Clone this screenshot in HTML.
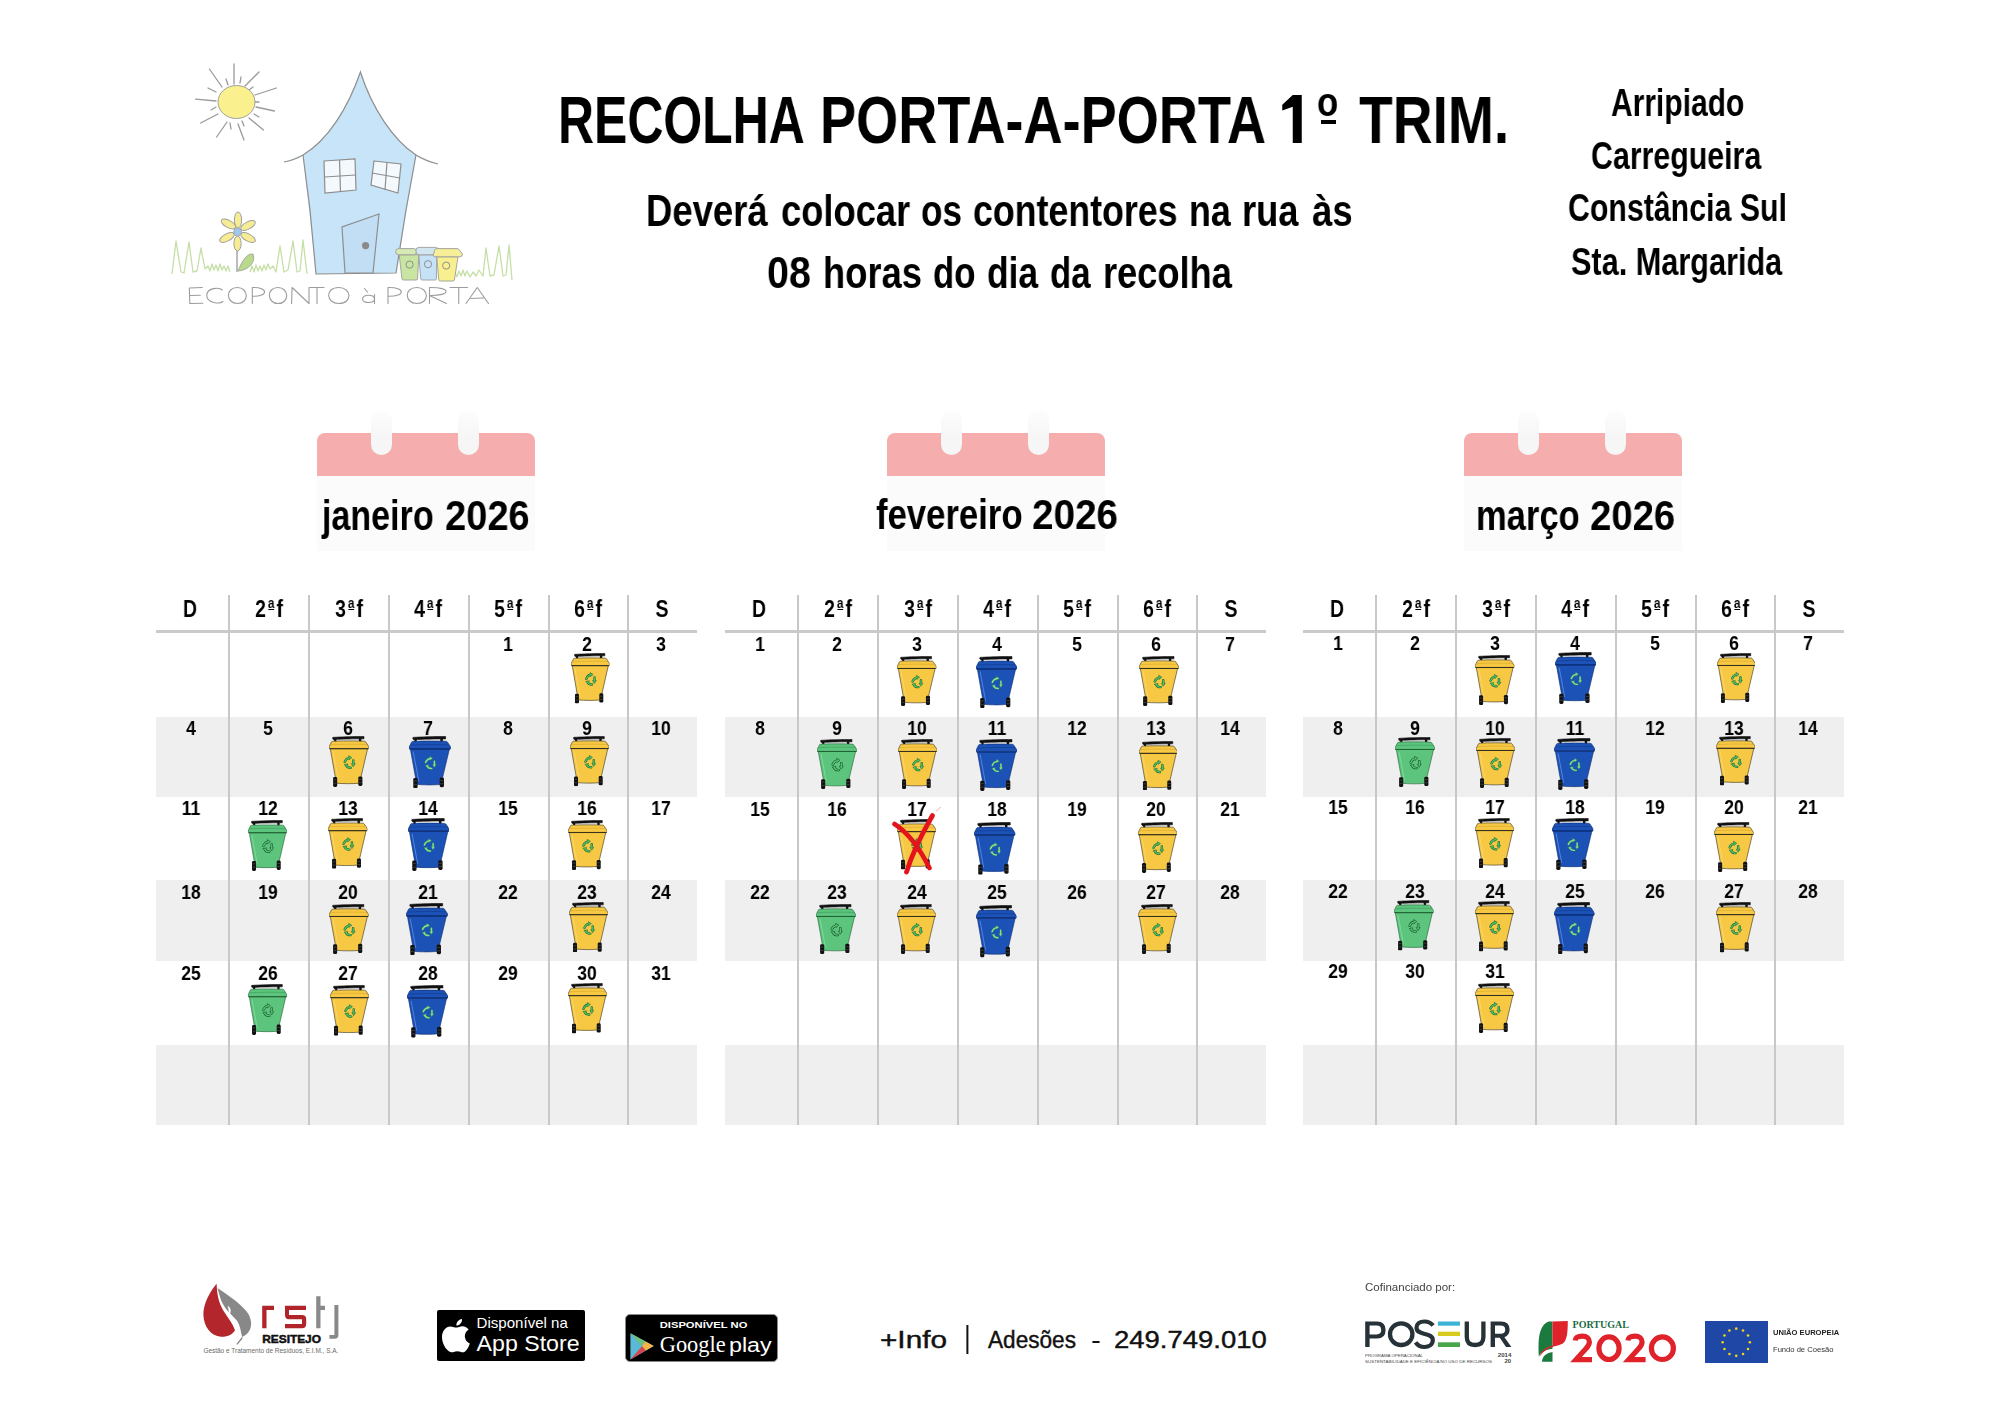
<!DOCTYPE html>
<html><head><meta charset="utf-8"><style>
*{margin:0;padding:0;box-sizing:border-box}
html,body{width:2000px;height:1414px;background:#fff;overflow:hidden}
body{position:relative;font-family:"Liberation Sans",sans-serif}
.t{position:absolute;white-space:nowrap;will-change:transform}
.a{position:absolute}
.o{display:inline-block;font-size:0.6em;line-height:0.82;vertical-align:top;border-bottom:0.11em solid #000;padding:0;margin:0.06em 0.16em 0 0.18em;position:relative;top:-1.3px}
</style></head>
<body>
<svg width="0" height="0" style="position:absolute"><defs><symbol id="biny" viewBox="0 0 40 52"><path d="M3.8 1.4 C12 0.8 26 0.4 35 0.5 L35 2.9 C26 2.9 12 3.2 4.2 3.6 Q3.2 2.6 3.8 1.4 Z" fill="#111" stroke="#111" stroke-width="0.6" stroke-linejoin="round"/><path d="M5 2.6 L7.4 2.6 L7.4 6.2 L5.4 6.2 Z M29.8 2.4 L32.4 2.4 L32.2 6.2 L30 6.2 Z" fill="#111"/><path d="M2.6 5.9 Q3 5.3 4.4 5.3 C14 4.9 26 4.9 35.2 5.3 Q36.2 5.3 36.6 5.9 L40 11.2 L39.8 12.9 L0.2 12.9 L0 11.2 Z" fill="#f7c843" stroke="#2e2a1a" stroke-width="0.6"/><path d="M1.6 9.0 C14 8.3 26 8.3 38.2 8.8" stroke="#d9a62a" stroke-width="0.6" fill="none"/><path d="M1.3 13 L38.6 13 L30.5 48.2 C23 49 14 48.8 7.4 48.2 Z" fill="#f7c843" stroke="#2e2a1a" stroke-width="0.6"/><path d="M0.6 13 L39.2 13" stroke="#2e2a1a" stroke-width="0.9"/><path d="M4 15.5 L9.4 45" stroke="#fde08a" stroke-width="0.7" opacity="0.8"/><g transform="translate(20.3 27) scale(0.82) translate(-19.5 -26.8)"><path d="M14 26.2 Q15.6 21.8 19.4 21.2" stroke="#1c6a34" stroke-width="3" fill="none" stroke-linecap="round"/><path d="M18.8 18.4 L22.6 20.8 L19.2 23.6 Z" fill="#4fbf63" stroke="#1c6a34" stroke-width="0.7" stroke-linejoin="round"/><path d="M14 26.2 Q15.6 21.8 19.4 21.2" stroke="#4fbf63" stroke-width="1.7" fill="none" stroke-linecap="round"/><path d="M24.3 24.4 L24.4 29" stroke="#1c6a34" stroke-width="3" fill="none" stroke-linecap="round"/><path d="M21.9 28.4 L26.7 28.4 L24.2 32.2 Z" fill="#4fbf63" stroke="#1c6a34" stroke-width="0.7" stroke-linejoin="round"/><path d="M24.3 24.4 L24.4 29" stroke="#4fbf63" stroke-width="1.7" fill="none" stroke-linecap="round"/><path d="M21.2 33.4 Q17.4 33.6 16 30.8" stroke="#1c6a34" stroke-width="3" fill="none" stroke-linecap="round"/><path d="M13.2 29.6 L17.8 28.6 L16.6 32.6 Z" fill="#4fbf63" stroke="#1c6a34" stroke-width="0.7" stroke-linejoin="round"/><path d="M21.2 33.4 Q17.4 33.6 16 30.8" stroke="#4fbf63" stroke-width="1.7" fill="none" stroke-linecap="round"/></g><rect x="4.1" y="41.8" width="4.1" height="10.2" rx="1.4" fill="#111"/><rect x="29.3" y="41.4" width="4.1" height="9.6" rx="1.4" fill="#111"/><path d="M4.6 44.8 H7.7 M4.6 48.2 H7.7 M29.8 44.4 H32.9 M29.8 47.6 H32.9" stroke="#666" stroke-width="0.5"/></symbol><symbol id="binb" viewBox="0 0 40 52"><path d="M3.8 1.4 C12 0.8 26 0.4 35 0.5 L35 2.9 C26 2.9 12 3.2 4.2 3.6 Q3.2 2.6 3.8 1.4 Z" fill="#111" stroke="#111" stroke-width="0.6" stroke-linejoin="round"/><path d="M5 2.6 L7.4 2.6 L7.4 6.2 L5.4 6.2 Z M29.8 2.4 L32.4 2.4 L32.2 6.2 L30 6.2 Z" fill="#111"/><path d="M2.6 5.9 Q3 5.3 4.4 5.3 C14 4.9 26 4.9 35.2 5.3 Q36.2 5.3 36.6 5.9 L40 11.2 L39.8 12.9 L0.2 12.9 L0 11.2 Z" fill="#1c52b6" stroke="#0a2a6e" stroke-width="0.6"/><path d="M1.6 9.0 C14 8.3 26 8.3 38.2 8.8" stroke="#0e3a8e" stroke-width="0.6" fill="none"/><path d="M1.3 13 L38.6 13 L30.5 48.2 C23 49 14 48.8 7.4 48.2 Z" fill="#1c52b6" stroke="#0a2a6e" stroke-width="0.6"/><path d="M0.6 13 L39.2 13" stroke="#0a2a6e" stroke-width="0.9"/><path d="M4 15.5 L9.4 45" stroke="#7aa8ff" stroke-width="0.7" opacity="0.8"/><g transform="translate(20.3 27) scale(0.82) translate(-19.5 -26.8)"><path d="M14 26.2 Q15.6 21.8 19.4 21.2" stroke="#1f6a8a" stroke-width="3" fill="none" stroke-linecap="round"/><path d="M18.8 18.4 L22.6 20.8 L19.2 23.6 Z" fill="#86e27e" stroke="#1f6a8a" stroke-width="0.7" stroke-linejoin="round"/><path d="M14 26.2 Q15.6 21.8 19.4 21.2" stroke="#86e27e" stroke-width="1.7" fill="none" stroke-linecap="round"/><path d="M24.3 24.4 L24.4 29" stroke="#1f6a8a" stroke-width="3" fill="none" stroke-linecap="round"/><path d="M21.9 28.4 L26.7 28.4 L24.2 32.2 Z" fill="#86e27e" stroke="#1f6a8a" stroke-width="0.7" stroke-linejoin="round"/><path d="M24.3 24.4 L24.4 29" stroke="#86e27e" stroke-width="1.7" fill="none" stroke-linecap="round"/><path d="M21.2 33.4 Q17.4 33.6 16 30.8" stroke="#1f6a8a" stroke-width="3" fill="none" stroke-linecap="round"/><path d="M13.2 29.6 L17.8 28.6 L16.6 32.6 Z" fill="#86e27e" stroke="#1f6a8a" stroke-width="0.7" stroke-linejoin="round"/><path d="M21.2 33.4 Q17.4 33.6 16 30.8" stroke="#86e27e" stroke-width="1.7" fill="none" stroke-linecap="round"/></g><rect x="4.1" y="41.8" width="4.1" height="10.2" rx="1.4" fill="#111"/><rect x="29.3" y="41.4" width="4.1" height="9.6" rx="1.4" fill="#111"/><path d="M4.6 44.8 H7.7 M4.6 48.2 H7.7 M29.8 44.4 H32.9 M29.8 47.6 H32.9" stroke="#666" stroke-width="0.5"/></symbol><symbol id="bing" viewBox="0 0 40 52"><path d="M3.8 1.4 C12 0.8 26 0.4 35 0.5 L35 2.9 C26 2.9 12 3.2 4.2 3.6 Q3.2 2.6 3.8 1.4 Z" fill="#111" stroke="#111" stroke-width="0.6" stroke-linejoin="round"/><path d="M5 2.6 L7.4 2.6 L7.4 6.2 L5.4 6.2 Z M29.8 2.4 L32.4 2.4 L32.2 6.2 L30 6.2 Z" fill="#111"/><path d="M2.6 5.9 Q3 5.3 4.4 5.3 C14 4.9 26 4.9 35.2 5.3 Q36.2 5.3 36.6 5.9 L40 11.2 L39.8 12.9 L0.2 12.9 L0 11.2 Z" fill="#5cc47c" stroke="#1c5e30" stroke-width="0.6"/><path d="M1.6 9.0 C14 8.3 26 8.3 38.2 8.8" stroke="#3a9a5a" stroke-width="0.6" fill="none"/><path d="M1.3 13 L38.6 13 L30.5 48.2 C23 49 14 48.8 7.4 48.2 Z" fill="#5cc47c" stroke="#1c5e30" stroke-width="0.6"/><path d="M0.6 13 L39.2 13" stroke="#1c5e30" stroke-width="0.9"/><path d="M4 15.5 L9.4 45" stroke="#a2e8b8" stroke-width="0.7" opacity="0.8"/><g transform="translate(20.3 27) scale(0.82) translate(-19.5 -26.8)"><path d="M14 26.2 Q15.6 21.8 19.4 21.2" stroke="#0e4a20" stroke-width="3" fill="none" stroke-linecap="round"/><path d="M18.8 18.4 L22.6 20.8 L19.2 23.6 Z" fill="#5cc47c" stroke="#0e4a20" stroke-width="0.7" stroke-linejoin="round"/><path d="M14 26.2 Q15.6 21.8 19.4 21.2" stroke="#5cc47c" stroke-width="1.7" fill="none" stroke-linecap="round"/><path d="M24.3 24.4 L24.4 29" stroke="#0e4a20" stroke-width="3" fill="none" stroke-linecap="round"/><path d="M21.9 28.4 L26.7 28.4 L24.2 32.2 Z" fill="#5cc47c" stroke="#0e4a20" stroke-width="0.7" stroke-linejoin="round"/><path d="M24.3 24.4 L24.4 29" stroke="#5cc47c" stroke-width="1.7" fill="none" stroke-linecap="round"/><path d="M21.2 33.4 Q17.4 33.6 16 30.8" stroke="#0e4a20" stroke-width="3" fill="none" stroke-linecap="round"/><path d="M13.2 29.6 L17.8 28.6 L16.6 32.6 Z" fill="#5cc47c" stroke="#0e4a20" stroke-width="0.7" stroke-linejoin="round"/><path d="M21.2 33.4 Q17.4 33.6 16 30.8" stroke="#5cc47c" stroke-width="1.7" fill="none" stroke-linecap="round"/></g><rect x="4.1" y="41.8" width="4.1" height="10.2" rx="1.4" fill="#111"/><rect x="29.3" y="41.4" width="4.1" height="9.6" rx="1.4" fill="#111"/><path d="M4.6 44.8 H7.7 M4.6 48.2 H7.7 M29.8 44.4 H32.9 M29.8 47.6 H32.9" stroke="#666" stroke-width="0.5"/></symbol></defs></svg>
<div class="a" style="left:156px;top:716.5px;width:541px;height:80.0px;background:#efefef"></div>
<div class="a" style="left:156px;top:880px;width:541px;height:81.0px;background:#efefef"></div>
<div class="a" style="left:156px;top:1044.5px;width:541px;height:80.5px;background:#efefef"></div>
<div class="a" style="left:156px;top:629.6px;width:541px;height:3px;background:#cacaca"></div>
<div class="a" style="left:228.25px;top:595px;width:1.5px;height:530px;background:#c8c8c8"></div>
<div class="a" style="left:308.25px;top:595px;width:1.5px;height:530px;background:#c8c8c8"></div>
<div class="a" style="left:388.25px;top:595px;width:1.5px;height:530px;background:#c8c8c8"></div>
<div class="a" style="left:468.25px;top:595px;width:1.5px;height:530px;background:#c8c8c8"></div>
<div class="a" style="left:548.25px;top:595px;width:1.5px;height:530px;background:#c8c8c8"></div>
<div class="a" style="left:627.25px;top:595px;width:1.5px;height:530px;background:#c8c8c8"></div>
<div class="a" style="left:316.9px;top:476px;width:218px;height:75px;background:#fbfbfb"></div>
<div class="a" style="left:316.9px;top:432.5px;width:218px;height:43.5px;background:#f6adad;border-radius:8px 8px 0 0"></div>
<div class="a" style="left:370.9px;top:410px;width:21px;height:45.3px;background:linear-gradient(#fdfdfd,#f6f6f6 60%);border-radius:10.5px 10.5px 10.5px 10.5px"></div>
<div class="a" style="left:457.9px;top:410px;width:21px;height:45.3px;background:linear-gradient(#fdfdfd,#f6f6f6 60%);border-radius:10.5px 10.5px 10.5px 10.5px"></div>
<div class="a" style="left:725px;top:716.5px;width:541px;height:80.0px;background:#efefef"></div>
<div class="a" style="left:725px;top:880px;width:541px;height:81.0px;background:#efefef"></div>
<div class="a" style="left:725px;top:1044.5px;width:541px;height:80.5px;background:#efefef"></div>
<div class="a" style="left:725px;top:629.6px;width:541px;height:3px;background:#cacaca"></div>
<div class="a" style="left:797.25px;top:595px;width:1.5px;height:530px;background:#c8c8c8"></div>
<div class="a" style="left:877.25px;top:595px;width:1.5px;height:530px;background:#c8c8c8"></div>
<div class="a" style="left:957.25px;top:595px;width:1.5px;height:530px;background:#c8c8c8"></div>
<div class="a" style="left:1037.25px;top:595px;width:1.5px;height:530px;background:#c8c8c8"></div>
<div class="a" style="left:1117.25px;top:595px;width:1.5px;height:530px;background:#c8c8c8"></div>
<div class="a" style="left:1196.25px;top:595px;width:1.5px;height:530px;background:#c8c8c8"></div>
<div class="a" style="left:887.2px;top:476px;width:218px;height:75px;background:#fbfbfb"></div>
<div class="a" style="left:887.2px;top:432.5px;width:218px;height:43.5px;background:#f6adad;border-radius:8px 8px 0 0"></div>
<div class="a" style="left:941.2px;top:410px;width:21px;height:45.3px;background:linear-gradient(#fdfdfd,#f6f6f6 60%);border-radius:10.5px 10.5px 10.5px 10.5px"></div>
<div class="a" style="left:1028.2px;top:410px;width:21px;height:45.3px;background:linear-gradient(#fdfdfd,#f6f6f6 60%);border-radius:10.5px 10.5px 10.5px 10.5px"></div>
<div class="a" style="left:1303px;top:716.5px;width:541px;height:80.0px;background:#efefef"></div>
<div class="a" style="left:1303px;top:880px;width:541px;height:81.0px;background:#efefef"></div>
<div class="a" style="left:1303px;top:1044.5px;width:541px;height:80.5px;background:#efefef"></div>
<div class="a" style="left:1303px;top:629.6px;width:541px;height:3px;background:#cacaca"></div>
<div class="a" style="left:1375.25px;top:595px;width:1.5px;height:530px;background:#c8c8c8"></div>
<div class="a" style="left:1455.25px;top:595px;width:1.5px;height:530px;background:#c8c8c8"></div>
<div class="a" style="left:1535.25px;top:595px;width:1.5px;height:530px;background:#c8c8c8"></div>
<div class="a" style="left:1615.25px;top:595px;width:1.5px;height:530px;background:#c8c8c8"></div>
<div class="a" style="left:1695.25px;top:595px;width:1.5px;height:530px;background:#c8c8c8"></div>
<div class="a" style="left:1774.25px;top:595px;width:1.5px;height:530px;background:#c8c8c8"></div>
<div class="a" style="left:1464.4px;top:476px;width:218px;height:75px;background:#fbfbfb"></div>
<div class="a" style="left:1464.4px;top:432.5px;width:218px;height:43.5px;background:#f6adad;border-radius:8px 8px 0 0"></div>
<div class="a" style="left:1518.4px;top:410px;width:21px;height:45.3px;background:linear-gradient(#fdfdfd,#f6f6f6 60%);border-radius:10.5px 10.5px 10.5px 10.5px"></div>
<div class="a" style="left:1605.4px;top:410px;width:21px;height:45.3px;background:linear-gradient(#fdfdfd,#f6f6f6 60%);border-radius:10.5px 10.5px 10.5px 10.5px"></div>
<svg class="a" style="left:150px;top:40px" width="400" height="280" viewBox="0 0 400 280">
<g stroke="#c5dfa6" stroke-width="1.3" fill="none" stroke-linejoin="round">
<path d="M22,234 L26,201 L31,232 L34,233 L39,202 L43,232 L47,231 L51,208 L55,229 L58,226 L60,231 L62,224 L64,230 L66,225 L68,231 L70,224 L72,230 L74,226 L76,231 L78,226 L80,232"/><path d="M100,232 L102,226 L104,232 L106,225 L108,231 L110,226 L112,231 L114,225 L116,230 L118,224 L120,229 L123,226 L126,232 L130,206 L134,232 L138,230 L143,201 L147,232 L150,231 L153,200 L157,234"/><path d="M303,237 L305,232 L307,237 L309,231 L311,236 L313,230 L315,236 L317,231 L320,237 L323,232 L326,236 L329,230 L333,236 L336,208 L340,236 L344,235 L349,206 L353,236 L356,235 L359,205 L362,240"/></g>
<g stroke="#9a9a9a" stroke-width="1.3" stroke-linecap="round"><line x1="84" y1="24" x2="84" y2="44"/><line x1="59.4" y1="29" x2="72" y2="47"/><line x1="109" y1="32" x2="95" y2="46"/><line x1="126.4" y1="48" x2="105" y2="55"/><line x1="45.6" y1="59.2" x2="66" y2="61"/><line x1="124.4" y1="71" x2="106" y2="67"/><line x1="50.6" y1="83" x2="68" y2="74"/><line x1="66.6" y1="97" x2="77" y2="82"/><line x1="94" y1="100" x2="88" y2="84"/><line x1="113.4" y1="90" x2="99" y2="78"/><line x1="76" y1="39" x2="78" y2="45"/><line x1="91" y1="37" x2="90" y2="43"/><line x1="58" y1="48" x2="66" y2="52"/><line x1="103" y1="47" x2="99" y2="50"/><line x1="61" y1="70" x2="66" y2="67"/><line x1="80" y1="83" x2="81" y2="89"/><line x1="92" y1="81" x2="94" y2="86"/><line x1="104" y1="74" x2="109" y2="77"/><line x1="104" y1="62" x2="109" y2="62"/></g>
<ellipse cx="86.5" cy="62" rx="18.5" ry="16.5" fill="#fbf08e" stroke="#a0a0a0" stroke-width="1"/>
<path d="M210.4 32 C198 68 178 100 153 115 C146 119 140 121 134 122 L153 115 L166 234 L246 233 L266 115 L288 124 C280 122 272 119 266 115 C243 100 222 68 210.4 32 Z" fill="#c7e4f8" stroke="none"/>
<path d="M134 122 C140 121 146 119 153 115 C178 100 198 68 210.4 32 C222 68 243 100 266 115 C272 119 280 122 288 124" fill="none" stroke="#8e8e8e" stroke-width="1.2"/>
<path d="M153 115 L160 170 L166 234 L246 233 L256 170 L266 115" fill="none" stroke="#8e8e8e" stroke-width="1.2"/>
<g fill="#f4f9fd" stroke="#8e8e8e" stroke-width="1.2">
<path d="M174 121 L205 119 L206 150 L175 153 Z"/>
<path d="M224 121 L251 124 L248 153 L221 145 Z"/>
<path d="M229 174 L192 187 L195 233 L223 233 Z" fill="#c2def4"/>
</g>
<g stroke="#8e8e8e" stroke-width="1.2"><line x1="189.5" y1="120" x2="190.5" y2="152"/><line x1="174.5" y1="137" x2="205.5" y2="135"/>
<line x1="237" y1="122" x2="235" y2="150"/><line x1="222" y1="133" x2="250" y2="138"/></g>
<circle cx="215.6" cy="205.6" r="3.6" fill="#8a8a8a"/>
<path d="M87 206 L87 232" stroke="#9a9a9a" stroke-width="1.3"/>
<path d="M88 231 C92 221 97 213 103 214 C106 222 99 230 88 231 Z" fill="#b9d98c" stroke="#9a9a9a" stroke-width="0.8"/>
<g fill="#f6ec94" stroke="#a0a0a0" stroke-width="1">
<ellipse cx="88" cy="180" rx="3.6" ry="8"/>
<ellipse cx="98" cy="185.5" rx="3.6" ry="8" transform="rotate(62 98 185.5)"/>
<ellipse cx="98" cy="197.5" rx="3.6" ry="8" transform="rotate(118 98 197.5)"/>
<ellipse cx="87.5" cy="203.5" rx="3.6" ry="7.5"/>
<ellipse cx="77" cy="197.5" rx="3.6" ry="8" transform="rotate(62 77 197.5)"/>
<ellipse cx="78.5" cy="184" rx="3.6" ry="8" transform="rotate(118 78.5 184)"/>
</g>
<circle cx="87.6" cy="192" r="4" fill="#9fc8ec" stroke="#a0a0a0" stroke-width="0.8"/>
<g stroke="#9c9c9c" stroke-width="0.9">
<path d="M249.2 214.8 L268.8 214.8 L267.6 239 Q267.4 240 266 240 L253.6 240 Q252.2 240 252 239 Z" fill="#c9e5a2"/>
<path d="M268.8 214.8 L286.8 214.8 L286.4 239 Q286.2 240 285 240 L272.2 240 Q271 240 270.8 239 Z" fill="#c6e2f7"/>
<path d="M286.8 216.8 L308 216.8 L304.4 240 Q304 241 302.8 241 L290.4 241 Q289 241 288.8 240 Z" fill="#f8f08e"/>
<rect x="245.6" y="208.6" width="21" height="6.2" rx="3" fill="#d6eab6"/>
<rect x="266" y="207.4" width="22.6" height="7.4" rx="3" fill="#d2e6f2"/>
<path d="M284.6 210.4 Q285 208.6 287 208.6 L307 208.6 Q309 208.6 309.6 210.4 L312.4 214 Q312.4 216.8 310 216.8 L285 216.8 Q283.2 216.8 283.2 215 Z" fill="#f6ee98"/>
</g>
<g fill="none" stroke="#8f8f8f" stroke-width="1">
<circle cx="259.6" cy="224.6" r="3.6"/><circle cx="278" cy="224.2" r="3.6"/><circle cx="296.2" cy="225.6" r="3.6"/>
</g>
<path d="M52.3 247.5 L39.3 248.0 L39.8 263.5 L52.8 263.2 M39.599999999999994 255.5 L50.3 255.2 M72.3 250.0 C69.3 247.0 56.8 247.5 56.8 255.5 C56.8 263.5 70.3 264.0 72.8 261.5 M87.35 247.5 C75 247.5 76 263.5 87.35 263.5 C99.7 263.5 98.7 247.5 87.35 247.5 M102.3 263.5 L102.3 247.5 C118.62 247.0 118.62 256.8 102.3 256.3 M128.0 247.5 C116 247.5 117 263.5 128.0 263.5 C140 263.5 139 247.5 128.0 247.5 M141.6 263.5 L142.1 247.5 L159.0 263.5 L159.0 247.5 M160 247.5 L174 247.5 M167.0 247.5 L167.0 263.5 M188.8 247.5 C174.8 247.5 175.8 263.5 188.8 263.5 C202.8 263.5 201.8 247.5 188.8 247.5 M224.5 254.5 L224.5 263.5 M224.5 259.0 C224.5 253.5 212.5 254.5 212.5 259.0 C212.5 264.0 224.5 263.5 224.5 259.0 M214.5 248.5 L217.5 252.0 M238 263.5 L238 247.5 C255.68 247.0 255.68 256.8 238 256.3 M266.8 247.5 C253.6 247.5 254.6 263.5 266.8 263.5 C280.0 263.5 279.0 247.5 266.8 247.5 M279.5 263.5 L279.5 247.5 C301.6 247.0 301.6 256.0 279.5 255.5 L296.5 263.5 M300 247.5 L317.5 247.5 M308.75 247.5 L308.75 263.5 M316 263.5 L327.25 247.5 L338.5 263.5 M320.95 258.5 L333.55 258.0" fill="none" stroke="#9c9c9c" stroke-width="1.1" stroke-linecap="round" stroke-linejoin="round"/>
</svg>
<div class="t" style="left:558.30px;top:85.86px;font-size:67.5px;line-height:67.5px;font-weight:bold;color:#000;transform:scaleX(0.7393);transform-origin:left top;font-family:"Liberation Sans", sans-serif;">RECOLHA</div><div class="t" style="left:819.74px;top:85.86px;font-size:67.5px;line-height:67.5px;font-weight:bold;color:#000;transform:scaleX(0.8019);transform-origin:left top;font-family:"Liberation Sans", sans-serif;">PORTA-A-PORTA</div><div class="t" style="left:1317.29px;top:81.92px;font-size:40.5px;line-height:40.5px;font-weight:bold;color:#000;transform:scaleX(0.8571);transform-origin:left top;font-family:"Liberation Sans", sans-serif;">o</div><div class="t" style="left:1358.68px;top:85.86px;font-size:67.5px;line-height:67.5px;font-weight:bold;color:#000;transform:scaleX(0.8174);transform-origin:left top;font-family:"Liberation Sans", sans-serif;">TRIM.</div><div class="t" style="left:646.32px;top:187.66px;font-size:45px;line-height:45px;font-weight:bold;color:#000;transform:scaleX(0.8112);transform-origin:left top;font-family:"Liberation Sans", sans-serif;">Deverá</div><div class="t" style="left:780.64px;top:187.66px;font-size:45px;line-height:45px;font-weight:bold;color:#000;transform:scaleX(0.8073);transform-origin:left top;font-family:"Liberation Sans", sans-serif;">colocar</div><div class="t" style="left:920.94px;top:187.66px;font-size:45px;line-height:45px;font-weight:bold;color:#000;transform:scaleX(0.7806);transform-origin:left top;font-family:"Liberation Sans", sans-serif;">os</div><div class="t" style="left:973.41px;top:187.66px;font-size:45px;line-height:45px;font-weight:bold;color:#000;transform:scaleX(0.7943);transform-origin:left top;font-family:"Liberation Sans", sans-serif;">contentores</div><div class="t" style="left:1189.12px;top:187.66px;font-size:45px;line-height:45px;font-weight:bold;color:#000;transform:scaleX(0.795);transform-origin:left top;font-family:"Liberation Sans", sans-serif;">na</div><div class="t" style="left:1242.33px;top:187.66px;font-size:45px;line-height:45px;font-weight:bold;color:#000;transform:scaleX(0.806);transform-origin:left top;font-family:"Liberation Sans", sans-serif;">rua</div><div class="t" style="left:1312.19px;top:187.66px;font-size:45px;line-height:45px;font-weight:bold;color:#000;transform:scaleX(0.8138);transform-origin:left top;font-family:"Liberation Sans", sans-serif;">às</div><div class="t" style="left:766.99px;top:249.91px;font-size:45px;line-height:45px;font-weight:bold;color:#000;transform:scaleX(0.8777);transform-origin:left top;font-family:"Liberation Sans", sans-serif;">08</div><div class="t" style="left:822.58px;top:249.91px;font-size:45px;line-height:45px;font-weight:bold;color:#000;transform:scaleX(0.8072);transform-origin:left top;font-family:"Liberation Sans", sans-serif;">horas</div><div class="t" style="left:932.86px;top:249.91px;font-size:45px;line-height:45px;font-weight:bold;color:#000;transform:scaleX(0.7716);transform-origin:left top;font-family:"Liberation Sans", sans-serif;">do</div><div class="t" style="left:986.53px;top:249.91px;font-size:45px;line-height:45px;font-weight:bold;color:#000;transform:scaleX(0.7841);transform-origin:left top;font-family:"Liberation Sans", sans-serif;">dia</div><div class="t" style="left:1050.36px;top:249.91px;font-size:45px;line-height:45px;font-weight:bold;color:#000;transform:scaleX(0.7716);transform-origin:left top;font-family:"Liberation Sans", sans-serif;">da</div><div class="t" style="left:1103.18px;top:249.91px;font-size:45px;line-height:45px;font-weight:bold;color:#000;transform:scaleX(0.8051);transform-origin:left top;font-family:"Liberation Sans", sans-serif;">recolha</div><div class="t" style="left:1611.02px;top:83.64px;font-size:38.7px;line-height:38.7px;font-weight:bold;color:#000;transform:scaleX(0.7751);transform-origin:left top;font-family:"Liberation Sans", sans-serif;">Arripiado</div><div class="t" style="left:1591.43px;top:136.54px;font-size:38.7px;line-height:38.7px;font-weight:bold;color:#000;transform:scaleX(0.7838);transform-origin:left top;font-family:"Liberation Sans", sans-serif;">Carregueira</div><div class="t" style="left:1567.93px;top:189.24px;font-size:38.7px;line-height:38.7px;font-weight:bold;color:#000;transform:scaleX(0.7836);transform-origin:left top;font-family:"Liberation Sans", sans-serif;">Constância Sul</div><div class="t" style="left:1571.21px;top:243.04px;font-size:38.7px;line-height:38.7px;font-weight:bold;color:#000;transform:scaleX(0.7921);transform-origin:left top;font-family:"Liberation Sans", sans-serif;">Sta. Margarida</div><div class="t" style="left:322.30px;top:493.94px;font-size:42.6px;line-height:42.6px;font-weight:bold;color:#000;transform:scaleX(0.7993);transform-origin:left top;font-family:"Liberation Sans", sans-serif;">janeiro</div><div class="t" style="left:444.51px;top:493.94px;font-size:42.6px;line-height:42.6px;font-weight:bold;color:#000;transform:scaleX(0.8934);transform-origin:left top;font-family:"Liberation Sans", sans-serif;">2026</div><div class="t" style="left:875.99px;top:492.74px;font-size:42.6px;line-height:42.6px;font-weight:bold;color:#000;transform:scaleX(0.8147);transform-origin:left top;font-family:"Liberation Sans", sans-serif;">fevereiro</div><div class="t" style="left:1031.78px;top:492.74px;font-size:42.6px;line-height:42.6px;font-weight:bold;color:#000;transform:scaleX(0.9077);transform-origin:left top;font-family:"Liberation Sans", sans-serif;">2026</div><div class="t" style="left:1475.57px;top:494.44px;font-size:42.6px;line-height:42.6px;font-weight:bold;color:#000;transform:scaleX(0.8114);transform-origin:left top;font-family:"Liberation Sans", sans-serif;">março</div><div class="t" style="left:1589.70px;top:494.44px;font-size:42.6px;line-height:42.6px;font-weight:bold;color:#000;transform:scaleX(0.8989);transform-origin:left top;font-family:"Liberation Sans", sans-serif;">2026</div><svg class="a" style="left:1280px;top:93px" width="24" height="52" viewBox="1280 93 24 52"><path d="M1282.25 104.7 L1292.75 95 L1301.75 95 L1301.75 143 L1292.75 143 L1292.75 106.8 L1282.25 110.4 Z" fill="#000"/></svg><div class="a" style="left:1320.5px;top:119.75px;width:15.75px;height:3.75px;background:#000"></div><div class="t" style="left:190.40px;top:598.11px;font-size:23.5px;line-height:23.5px;font-weight:bold;color:#000;transform:translateX(-50%) scaleX(0.83);transform-origin:center top;font-family:"Liberation Sans", sans-serif;">D</div><div class="t" style="left:268.60px;top:598.11px;font-size:23.5px;line-height:23.5px;font-weight:bold;color:#000;transform:translateX(-50%) scaleX(0.83);transform-origin:center top;font-family:"Liberation Sans", sans-serif;">2<span class="o">a</span>f</div><div class="t" style="left:348.80px;top:598.11px;font-size:23.5px;line-height:23.5px;font-weight:bold;color:#000;transform:translateX(-50%) scaleX(0.83);transform-origin:center top;font-family:"Liberation Sans", sans-serif;">3<span class="o">a</span>f</div><div class="t" style="left:427.80px;top:598.11px;font-size:23.5px;line-height:23.5px;font-weight:bold;color:#000;transform:translateX(-50%) scaleX(0.83);transform-origin:center top;font-family:"Liberation Sans", sans-serif;">4<span class="o">a</span>f</div><div class="t" style="left:508.00px;top:598.11px;font-size:23.5px;line-height:23.5px;font-weight:bold;color:#000;transform:translateX(-50%) scaleX(0.83);transform-origin:center top;font-family:"Liberation Sans", sans-serif;">5<span class="o">a</span>f</div><div class="t" style="left:588.00px;top:598.11px;font-size:23.5px;line-height:23.5px;font-weight:bold;color:#000;transform:translateX(-50%) scaleX(0.83);transform-origin:center top;font-family:"Liberation Sans", sans-serif;">6<span class="o">a</span>f</div><div class="t" style="left:662.20px;top:598.11px;font-size:23.5px;line-height:23.5px;font-weight:bold;color:#000;transform:translateX(-50%) scaleX(0.83);transform-origin:center top;font-family:"Liberation Sans", sans-serif;">S</div><div class="t" style="left:507.50px;top:635.45px;font-size:19.9px;line-height:19.9px;font-weight:bold;color:#000;transform:translateX(-50%) scaleX(0.88);transform-origin:center top;font-family:"Liberation Sans", sans-serif;">1</div><div class="t" style="left:587.00px;top:635.45px;font-size:19.9px;line-height:19.9px;font-weight:bold;color:#000;transform:translateX(-50%) scaleX(0.88);transform-origin:center top;font-family:"Liberation Sans", sans-serif;">2</div><div class="t" style="left:661.00px;top:635.45px;font-size:19.9px;line-height:19.9px;font-weight:bold;color:#000;transform:translateX(-50%) scaleX(0.88);transform-origin:center top;font-family:"Liberation Sans", sans-serif;">3</div><div class="t" style="left:191.00px;top:718.55px;font-size:19.9px;line-height:19.9px;font-weight:bold;color:#000;transform:translateX(-50%) scaleX(0.88);transform-origin:center top;font-family:"Liberation Sans", sans-serif;">4</div><div class="t" style="left:267.50px;top:718.55px;font-size:19.9px;line-height:19.9px;font-weight:bold;color:#000;transform:translateX(-50%) scaleX(0.88);transform-origin:center top;font-family:"Liberation Sans", sans-serif;">5</div><div class="t" style="left:347.50px;top:718.55px;font-size:19.9px;line-height:19.9px;font-weight:bold;color:#000;transform:translateX(-50%) scaleX(0.88);transform-origin:center top;font-family:"Liberation Sans", sans-serif;">6</div><div class="t" style="left:427.50px;top:718.55px;font-size:19.9px;line-height:19.9px;font-weight:bold;color:#000;transform:translateX(-50%) scaleX(0.88);transform-origin:center top;font-family:"Liberation Sans", sans-serif;">7</div><div class="t" style="left:507.50px;top:718.55px;font-size:19.9px;line-height:19.9px;font-weight:bold;color:#000;transform:translateX(-50%) scaleX(0.88);transform-origin:center top;font-family:"Liberation Sans", sans-serif;">8</div><div class="t" style="left:587.00px;top:718.55px;font-size:19.9px;line-height:19.9px;font-weight:bold;color:#000;transform:translateX(-50%) scaleX(0.88);transform-origin:center top;font-family:"Liberation Sans", sans-serif;">9</div><div class="t" style="left:661.00px;top:718.55px;font-size:19.9px;line-height:19.9px;font-weight:bold;color:#000;transform:translateX(-50%) scaleX(0.88);transform-origin:center top;font-family:"Liberation Sans", sans-serif;">10</div><div class="t" style="left:191.00px;top:798.95px;font-size:19.9px;line-height:19.9px;font-weight:bold;color:#000;transform:translateX(-50%) scaleX(0.88);transform-origin:center top;font-family:"Liberation Sans", sans-serif;">11</div><div class="t" style="left:267.50px;top:798.95px;font-size:19.9px;line-height:19.9px;font-weight:bold;color:#000;transform:translateX(-50%) scaleX(0.88);transform-origin:center top;font-family:"Liberation Sans", sans-serif;">12</div><div class="t" style="left:347.50px;top:798.95px;font-size:19.9px;line-height:19.9px;font-weight:bold;color:#000;transform:translateX(-50%) scaleX(0.88);transform-origin:center top;font-family:"Liberation Sans", sans-serif;">13</div><div class="t" style="left:427.50px;top:798.95px;font-size:19.9px;line-height:19.9px;font-weight:bold;color:#000;transform:translateX(-50%) scaleX(0.88);transform-origin:center top;font-family:"Liberation Sans", sans-serif;">14</div><div class="t" style="left:507.50px;top:798.95px;font-size:19.9px;line-height:19.9px;font-weight:bold;color:#000;transform:translateX(-50%) scaleX(0.88);transform-origin:center top;font-family:"Liberation Sans", sans-serif;">15</div><div class="t" style="left:587.00px;top:798.95px;font-size:19.9px;line-height:19.9px;font-weight:bold;color:#000;transform:translateX(-50%) scaleX(0.88);transform-origin:center top;font-family:"Liberation Sans", sans-serif;">16</div><div class="t" style="left:661.00px;top:798.95px;font-size:19.9px;line-height:19.9px;font-weight:bold;color:#000;transform:translateX(-50%) scaleX(0.88);transform-origin:center top;font-family:"Liberation Sans", sans-serif;">17</div><div class="t" style="left:191.00px;top:882.65px;font-size:19.9px;line-height:19.9px;font-weight:bold;color:#000;transform:translateX(-50%) scaleX(0.88);transform-origin:center top;font-family:"Liberation Sans", sans-serif;">18</div><div class="t" style="left:267.50px;top:882.65px;font-size:19.9px;line-height:19.9px;font-weight:bold;color:#000;transform:translateX(-50%) scaleX(0.88);transform-origin:center top;font-family:"Liberation Sans", sans-serif;">19</div><div class="t" style="left:347.50px;top:882.65px;font-size:19.9px;line-height:19.9px;font-weight:bold;color:#000;transform:translateX(-50%) scaleX(0.88);transform-origin:center top;font-family:"Liberation Sans", sans-serif;">20</div><div class="t" style="left:427.50px;top:882.65px;font-size:19.9px;line-height:19.9px;font-weight:bold;color:#000;transform:translateX(-50%) scaleX(0.88);transform-origin:center top;font-family:"Liberation Sans", sans-serif;">21</div><div class="t" style="left:507.50px;top:882.65px;font-size:19.9px;line-height:19.9px;font-weight:bold;color:#000;transform:translateX(-50%) scaleX(0.88);transform-origin:center top;font-family:"Liberation Sans", sans-serif;">22</div><div class="t" style="left:587.00px;top:882.65px;font-size:19.9px;line-height:19.9px;font-weight:bold;color:#000;transform:translateX(-50%) scaleX(0.88);transform-origin:center top;font-family:"Liberation Sans", sans-serif;">23</div><div class="t" style="left:661.00px;top:882.65px;font-size:19.9px;line-height:19.9px;font-weight:bold;color:#000;transform:translateX(-50%) scaleX(0.88);transform-origin:center top;font-family:"Liberation Sans", sans-serif;">24</div><div class="t" style="left:191.00px;top:963.55px;font-size:19.9px;line-height:19.9px;font-weight:bold;color:#000;transform:translateX(-50%) scaleX(0.88);transform-origin:center top;font-family:"Liberation Sans", sans-serif;">25</div><div class="t" style="left:267.50px;top:963.55px;font-size:19.9px;line-height:19.9px;font-weight:bold;color:#000;transform:translateX(-50%) scaleX(0.88);transform-origin:center top;font-family:"Liberation Sans", sans-serif;">26</div><div class="t" style="left:347.50px;top:963.55px;font-size:19.9px;line-height:19.9px;font-weight:bold;color:#000;transform:translateX(-50%) scaleX(0.88);transform-origin:center top;font-family:"Liberation Sans", sans-serif;">27</div><div class="t" style="left:427.50px;top:963.55px;font-size:19.9px;line-height:19.9px;font-weight:bold;color:#000;transform:translateX(-50%) scaleX(0.88);transform-origin:center top;font-family:"Liberation Sans", sans-serif;">28</div><div class="t" style="left:507.50px;top:963.55px;font-size:19.9px;line-height:19.9px;font-weight:bold;color:#000;transform:translateX(-50%) scaleX(0.88);transform-origin:center top;font-family:"Liberation Sans", sans-serif;">29</div><div class="t" style="left:587.00px;top:963.55px;font-size:19.9px;line-height:19.9px;font-weight:bold;color:#000;transform:translateX(-50%) scaleX(0.88);transform-origin:center top;font-family:"Liberation Sans", sans-serif;">30</div><div class="t" style="left:661.00px;top:963.55px;font-size:19.9px;line-height:19.9px;font-weight:bold;color:#000;transform:translateX(-50%) scaleX(0.88);transform-origin:center top;font-family:"Liberation Sans", sans-serif;">31</div><div class="t" style="left:759.40px;top:598.11px;font-size:23.5px;line-height:23.5px;font-weight:bold;color:#000;transform:translateX(-50%) scaleX(0.83);transform-origin:center top;font-family:"Liberation Sans", sans-serif;">D</div><div class="t" style="left:837.60px;top:598.11px;font-size:23.5px;line-height:23.5px;font-weight:bold;color:#000;transform:translateX(-50%) scaleX(0.83);transform-origin:center top;font-family:"Liberation Sans", sans-serif;">2<span class="o">a</span>f</div><div class="t" style="left:917.80px;top:598.11px;font-size:23.5px;line-height:23.5px;font-weight:bold;color:#000;transform:translateX(-50%) scaleX(0.83);transform-origin:center top;font-family:"Liberation Sans", sans-serif;">3<span class="o">a</span>f</div><div class="t" style="left:996.80px;top:598.11px;font-size:23.5px;line-height:23.5px;font-weight:bold;color:#000;transform:translateX(-50%) scaleX(0.83);transform-origin:center top;font-family:"Liberation Sans", sans-serif;">4<span class="o">a</span>f</div><div class="t" style="left:1077.00px;top:598.11px;font-size:23.5px;line-height:23.5px;font-weight:bold;color:#000;transform:translateX(-50%) scaleX(0.83);transform-origin:center top;font-family:"Liberation Sans", sans-serif;">5<span class="o">a</span>f</div><div class="t" style="left:1157.00px;top:598.11px;font-size:23.5px;line-height:23.5px;font-weight:bold;color:#000;transform:translateX(-50%) scaleX(0.83);transform-origin:center top;font-family:"Liberation Sans", sans-serif;">6<span class="o">a</span>f</div><div class="t" style="left:1231.20px;top:598.11px;font-size:23.5px;line-height:23.5px;font-weight:bold;color:#000;transform:translateX(-50%) scaleX(0.83);transform-origin:center top;font-family:"Liberation Sans", sans-serif;">S</div><div class="t" style="left:760.00px;top:634.85px;font-size:19.9px;line-height:19.9px;font-weight:bold;color:#000;transform:translateX(-50%) scaleX(0.88);transform-origin:center top;font-family:"Liberation Sans", sans-serif;">1</div><div class="t" style="left:836.50px;top:634.85px;font-size:19.9px;line-height:19.9px;font-weight:bold;color:#000;transform:translateX(-50%) scaleX(0.88);transform-origin:center top;font-family:"Liberation Sans", sans-serif;">2</div><div class="t" style="left:916.50px;top:634.85px;font-size:19.9px;line-height:19.9px;font-weight:bold;color:#000;transform:translateX(-50%) scaleX(0.88);transform-origin:center top;font-family:"Liberation Sans", sans-serif;">3</div><div class="t" style="left:996.50px;top:634.85px;font-size:19.9px;line-height:19.9px;font-weight:bold;color:#000;transform:translateX(-50%) scaleX(0.88);transform-origin:center top;font-family:"Liberation Sans", sans-serif;">4</div><div class="t" style="left:1076.50px;top:634.85px;font-size:19.9px;line-height:19.9px;font-weight:bold;color:#000;transform:translateX(-50%) scaleX(0.88);transform-origin:center top;font-family:"Liberation Sans", sans-serif;">5</div><div class="t" style="left:1156.00px;top:634.85px;font-size:19.9px;line-height:19.9px;font-weight:bold;color:#000;transform:translateX(-50%) scaleX(0.88);transform-origin:center top;font-family:"Liberation Sans", sans-serif;">6</div><div class="t" style="left:1230.00px;top:634.85px;font-size:19.9px;line-height:19.9px;font-weight:bold;color:#000;transform:translateX(-50%) scaleX(0.88);transform-origin:center top;font-family:"Liberation Sans", sans-serif;">7</div><div class="t" style="left:760.00px;top:719.15px;font-size:19.9px;line-height:19.9px;font-weight:bold;color:#000;transform:translateX(-50%) scaleX(0.88);transform-origin:center top;font-family:"Liberation Sans", sans-serif;">8</div><div class="t" style="left:836.50px;top:719.15px;font-size:19.9px;line-height:19.9px;font-weight:bold;color:#000;transform:translateX(-50%) scaleX(0.88);transform-origin:center top;font-family:"Liberation Sans", sans-serif;">9</div><div class="t" style="left:916.50px;top:719.15px;font-size:19.9px;line-height:19.9px;font-weight:bold;color:#000;transform:translateX(-50%) scaleX(0.88);transform-origin:center top;font-family:"Liberation Sans", sans-serif;">10</div><div class="t" style="left:996.50px;top:719.15px;font-size:19.9px;line-height:19.9px;font-weight:bold;color:#000;transform:translateX(-50%) scaleX(0.88);transform-origin:center top;font-family:"Liberation Sans", sans-serif;">11</div><div class="t" style="left:1076.50px;top:719.15px;font-size:19.9px;line-height:19.9px;font-weight:bold;color:#000;transform:translateX(-50%) scaleX(0.88);transform-origin:center top;font-family:"Liberation Sans", sans-serif;">12</div><div class="t" style="left:1156.00px;top:719.15px;font-size:19.9px;line-height:19.9px;font-weight:bold;color:#000;transform:translateX(-50%) scaleX(0.88);transform-origin:center top;font-family:"Liberation Sans", sans-serif;">13</div><div class="t" style="left:1230.00px;top:719.15px;font-size:19.9px;line-height:19.9px;font-weight:bold;color:#000;transform:translateX(-50%) scaleX(0.88);transform-origin:center top;font-family:"Liberation Sans", sans-serif;">14</div><div class="t" style="left:760.00px;top:799.55px;font-size:19.9px;line-height:19.9px;font-weight:bold;color:#000;transform:translateX(-50%) scaleX(0.88);transform-origin:center top;font-family:"Liberation Sans", sans-serif;">15</div><div class="t" style="left:836.50px;top:799.55px;font-size:19.9px;line-height:19.9px;font-weight:bold;color:#000;transform:translateX(-50%) scaleX(0.88);transform-origin:center top;font-family:"Liberation Sans", sans-serif;">16</div><div class="t" style="left:916.50px;top:799.55px;font-size:19.9px;line-height:19.9px;font-weight:bold;color:#000;transform:translateX(-50%) scaleX(0.88);transform-origin:center top;font-family:"Liberation Sans", sans-serif;">17</div><div class="t" style="left:996.50px;top:799.55px;font-size:19.9px;line-height:19.9px;font-weight:bold;color:#000;transform:translateX(-50%) scaleX(0.88);transform-origin:center top;font-family:"Liberation Sans", sans-serif;">18</div><div class="t" style="left:1076.50px;top:799.55px;font-size:19.9px;line-height:19.9px;font-weight:bold;color:#000;transform:translateX(-50%) scaleX(0.88);transform-origin:center top;font-family:"Liberation Sans", sans-serif;">19</div><div class="t" style="left:1156.00px;top:799.55px;font-size:19.9px;line-height:19.9px;font-weight:bold;color:#000;transform:translateX(-50%) scaleX(0.88);transform-origin:center top;font-family:"Liberation Sans", sans-serif;">20</div><div class="t" style="left:1230.00px;top:799.55px;font-size:19.9px;line-height:19.9px;font-weight:bold;color:#000;transform:translateX(-50%) scaleX(0.88);transform-origin:center top;font-family:"Liberation Sans", sans-serif;">21</div><div class="t" style="left:760.00px;top:882.55px;font-size:19.9px;line-height:19.9px;font-weight:bold;color:#000;transform:translateX(-50%) scaleX(0.88);transform-origin:center top;font-family:"Liberation Sans", sans-serif;">22</div><div class="t" style="left:836.50px;top:882.55px;font-size:19.9px;line-height:19.9px;font-weight:bold;color:#000;transform:translateX(-50%) scaleX(0.88);transform-origin:center top;font-family:"Liberation Sans", sans-serif;">23</div><div class="t" style="left:916.50px;top:882.55px;font-size:19.9px;line-height:19.9px;font-weight:bold;color:#000;transform:translateX(-50%) scaleX(0.88);transform-origin:center top;font-family:"Liberation Sans", sans-serif;">24</div><div class="t" style="left:996.50px;top:882.55px;font-size:19.9px;line-height:19.9px;font-weight:bold;color:#000;transform:translateX(-50%) scaleX(0.88);transform-origin:center top;font-family:"Liberation Sans", sans-serif;">25</div><div class="t" style="left:1076.50px;top:882.55px;font-size:19.9px;line-height:19.9px;font-weight:bold;color:#000;transform:translateX(-50%) scaleX(0.88);transform-origin:center top;font-family:"Liberation Sans", sans-serif;">26</div><div class="t" style="left:1156.00px;top:882.55px;font-size:19.9px;line-height:19.9px;font-weight:bold;color:#000;transform:translateX(-50%) scaleX(0.88);transform-origin:center top;font-family:"Liberation Sans", sans-serif;">27</div><div class="t" style="left:1230.00px;top:882.55px;font-size:19.9px;line-height:19.9px;font-weight:bold;color:#000;transform:translateX(-50%) scaleX(0.88);transform-origin:center top;font-family:"Liberation Sans", sans-serif;">28</div><div class="t" style="left:1337.40px;top:598.11px;font-size:23.5px;line-height:23.5px;font-weight:bold;color:#000;transform:translateX(-50%) scaleX(0.83);transform-origin:center top;font-family:"Liberation Sans", sans-serif;">D</div><div class="t" style="left:1415.60px;top:598.11px;font-size:23.5px;line-height:23.5px;font-weight:bold;color:#000;transform:translateX(-50%) scaleX(0.83);transform-origin:center top;font-family:"Liberation Sans", sans-serif;">2<span class="o">a</span>f</div><div class="t" style="left:1495.80px;top:598.11px;font-size:23.5px;line-height:23.5px;font-weight:bold;color:#000;transform:translateX(-50%) scaleX(0.83);transform-origin:center top;font-family:"Liberation Sans", sans-serif;">3<span class="o">a</span>f</div><div class="t" style="left:1574.80px;top:598.11px;font-size:23.5px;line-height:23.5px;font-weight:bold;color:#000;transform:translateX(-50%) scaleX(0.83);transform-origin:center top;font-family:"Liberation Sans", sans-serif;">4<span class="o">a</span>f</div><div class="t" style="left:1655.00px;top:598.11px;font-size:23.5px;line-height:23.5px;font-weight:bold;color:#000;transform:translateX(-50%) scaleX(0.83);transform-origin:center top;font-family:"Liberation Sans", sans-serif;">5<span class="o">a</span>f</div><div class="t" style="left:1735.00px;top:598.11px;font-size:23.5px;line-height:23.5px;font-weight:bold;color:#000;transform:translateX(-50%) scaleX(0.83);transform-origin:center top;font-family:"Liberation Sans", sans-serif;">6<span class="o">a</span>f</div><div class="t" style="left:1809.20px;top:598.11px;font-size:23.5px;line-height:23.5px;font-weight:bold;color:#000;transform:translateX(-50%) scaleX(0.83);transform-origin:center top;font-family:"Liberation Sans", sans-serif;">S</div><div class="t" style="left:1338.00px;top:633.85px;font-size:19.9px;line-height:19.9px;font-weight:bold;color:#000;transform:translateX(-50%) scaleX(0.88);transform-origin:center top;font-family:"Liberation Sans", sans-serif;">1</div><div class="t" style="left:1414.50px;top:633.85px;font-size:19.9px;line-height:19.9px;font-weight:bold;color:#000;transform:translateX(-50%) scaleX(0.88);transform-origin:center top;font-family:"Liberation Sans", sans-serif;">2</div><div class="t" style="left:1494.50px;top:633.85px;font-size:19.9px;line-height:19.9px;font-weight:bold;color:#000;transform:translateX(-50%) scaleX(0.88);transform-origin:center top;font-family:"Liberation Sans", sans-serif;">3</div><div class="t" style="left:1574.50px;top:633.85px;font-size:19.9px;line-height:19.9px;font-weight:bold;color:#000;transform:translateX(-50%) scaleX(0.88);transform-origin:center top;font-family:"Liberation Sans", sans-serif;">4</div><div class="t" style="left:1654.50px;top:633.85px;font-size:19.9px;line-height:19.9px;font-weight:bold;color:#000;transform:translateX(-50%) scaleX(0.88);transform-origin:center top;font-family:"Liberation Sans", sans-serif;">5</div><div class="t" style="left:1734.00px;top:633.85px;font-size:19.9px;line-height:19.9px;font-weight:bold;color:#000;transform:translateX(-50%) scaleX(0.88);transform-origin:center top;font-family:"Liberation Sans", sans-serif;">6</div><div class="t" style="left:1808.00px;top:633.85px;font-size:19.9px;line-height:19.9px;font-weight:bold;color:#000;transform:translateX(-50%) scaleX(0.88);transform-origin:center top;font-family:"Liberation Sans", sans-serif;">7</div><div class="t" style="left:1338.00px;top:718.55px;font-size:19.9px;line-height:19.9px;font-weight:bold;color:#000;transform:translateX(-50%) scaleX(0.88);transform-origin:center top;font-family:"Liberation Sans", sans-serif;">8</div><div class="t" style="left:1414.50px;top:718.55px;font-size:19.9px;line-height:19.9px;font-weight:bold;color:#000;transform:translateX(-50%) scaleX(0.88);transform-origin:center top;font-family:"Liberation Sans", sans-serif;">9</div><div class="t" style="left:1494.50px;top:718.55px;font-size:19.9px;line-height:19.9px;font-weight:bold;color:#000;transform:translateX(-50%) scaleX(0.88);transform-origin:center top;font-family:"Liberation Sans", sans-serif;">10</div><div class="t" style="left:1574.50px;top:718.55px;font-size:19.9px;line-height:19.9px;font-weight:bold;color:#000;transform:translateX(-50%) scaleX(0.88);transform-origin:center top;font-family:"Liberation Sans", sans-serif;">11</div><div class="t" style="left:1654.50px;top:718.55px;font-size:19.9px;line-height:19.9px;font-weight:bold;color:#000;transform:translateX(-50%) scaleX(0.88);transform-origin:center top;font-family:"Liberation Sans", sans-serif;">12</div><div class="t" style="left:1734.00px;top:718.55px;font-size:19.9px;line-height:19.9px;font-weight:bold;color:#000;transform:translateX(-50%) scaleX(0.88);transform-origin:center top;font-family:"Liberation Sans", sans-serif;">13</div><div class="t" style="left:1808.00px;top:718.55px;font-size:19.9px;line-height:19.9px;font-weight:bold;color:#000;transform:translateX(-50%) scaleX(0.88);transform-origin:center top;font-family:"Liberation Sans", sans-serif;">14</div><div class="t" style="left:1338.00px;top:798.45px;font-size:19.9px;line-height:19.9px;font-weight:bold;color:#000;transform:translateX(-50%) scaleX(0.88);transform-origin:center top;font-family:"Liberation Sans", sans-serif;">15</div><div class="t" style="left:1414.50px;top:798.45px;font-size:19.9px;line-height:19.9px;font-weight:bold;color:#000;transform:translateX(-50%) scaleX(0.88);transform-origin:center top;font-family:"Liberation Sans", sans-serif;">16</div><div class="t" style="left:1494.50px;top:798.45px;font-size:19.9px;line-height:19.9px;font-weight:bold;color:#000;transform:translateX(-50%) scaleX(0.88);transform-origin:center top;font-family:"Liberation Sans", sans-serif;">17</div><div class="t" style="left:1574.50px;top:798.45px;font-size:19.9px;line-height:19.9px;font-weight:bold;color:#000;transform:translateX(-50%) scaleX(0.88);transform-origin:center top;font-family:"Liberation Sans", sans-serif;">18</div><div class="t" style="left:1654.50px;top:798.45px;font-size:19.9px;line-height:19.9px;font-weight:bold;color:#000;transform:translateX(-50%) scaleX(0.88);transform-origin:center top;font-family:"Liberation Sans", sans-serif;">19</div><div class="t" style="left:1734.00px;top:798.45px;font-size:19.9px;line-height:19.9px;font-weight:bold;color:#000;transform:translateX(-50%) scaleX(0.88);transform-origin:center top;font-family:"Liberation Sans", sans-serif;">20</div><div class="t" style="left:1808.00px;top:798.45px;font-size:19.9px;line-height:19.9px;font-weight:bold;color:#000;transform:translateX(-50%) scaleX(0.88);transform-origin:center top;font-family:"Liberation Sans", sans-serif;">21</div><div class="t" style="left:1338.00px;top:882.45px;font-size:19.9px;line-height:19.9px;font-weight:bold;color:#000;transform:translateX(-50%) scaleX(0.88);transform-origin:center top;font-family:"Liberation Sans", sans-serif;">22</div><div class="t" style="left:1414.50px;top:882.45px;font-size:19.9px;line-height:19.9px;font-weight:bold;color:#000;transform:translateX(-50%) scaleX(0.88);transform-origin:center top;font-family:"Liberation Sans", sans-serif;">23</div><div class="t" style="left:1494.50px;top:882.45px;font-size:19.9px;line-height:19.9px;font-weight:bold;color:#000;transform:translateX(-50%) scaleX(0.88);transform-origin:center top;font-family:"Liberation Sans", sans-serif;">24</div><div class="t" style="left:1574.50px;top:882.45px;font-size:19.9px;line-height:19.9px;font-weight:bold;color:#000;transform:translateX(-50%) scaleX(0.88);transform-origin:center top;font-family:"Liberation Sans", sans-serif;">25</div><div class="t" style="left:1654.50px;top:882.45px;font-size:19.9px;line-height:19.9px;font-weight:bold;color:#000;transform:translateX(-50%) scaleX(0.88);transform-origin:center top;font-family:"Liberation Sans", sans-serif;">26</div><div class="t" style="left:1734.00px;top:882.45px;font-size:19.9px;line-height:19.9px;font-weight:bold;color:#000;transform:translateX(-50%) scaleX(0.88);transform-origin:center top;font-family:"Liberation Sans", sans-serif;">27</div><div class="t" style="left:1808.00px;top:882.45px;font-size:19.9px;line-height:19.9px;font-weight:bold;color:#000;transform:translateX(-50%) scaleX(0.88);transform-origin:center top;font-family:"Liberation Sans", sans-serif;">28</div><div class="t" style="left:1338.00px;top:961.85px;font-size:19.9px;line-height:19.9px;font-weight:bold;color:#000;transform:translateX(-50%) scaleX(0.88);transform-origin:center top;font-family:"Liberation Sans", sans-serif;">29</div><div class="t" style="left:1414.50px;top:961.85px;font-size:19.9px;line-height:19.9px;font-weight:bold;color:#000;transform:translateX(-50%) scaleX(0.88);transform-origin:center top;font-family:"Liberation Sans", sans-serif;">30</div><div class="t" style="left:1494.50px;top:961.85px;font-size:19.9px;line-height:19.9px;font-weight:bold;color:#000;transform:translateX(-50%) scaleX(0.88);transform-origin:center top;font-family:"Liberation Sans", sans-serif;">31</div>
<svg class="a" style="left:571.2px;top:653.3px" width="38.7" height="50.6" viewBox="0 0 40 52" preserveAspectRatio="none"><use href="#biny"/></svg>
<svg class="a" style="left:329.1px;top:736.3px" width="40.0" height="50.9" viewBox="0 0 40 52" preserveAspectRatio="none"><use href="#biny"/></svg>
<svg class="a" style="left:408.9px;top:736.3px" width="41.9" height="52.2" viewBox="0 0 40 52" preserveAspectRatio="none"><use href="#binb"/></svg>
<svg class="a" style="left:569.9px;top:736.3px" width="39.2" height="50.3" viewBox="0 0 40 52" preserveAspectRatio="none"><use href="#biny"/></svg>
<svg class="a" style="left:248.0px;top:820.3px" width="39.2" height="50.9" viewBox="0 0 40 52" preserveAspectRatio="none"><use href="#bing"/></svg>
<svg class="a" style="left:328.3px;top:818.2px" width="39.5" height="50.8" viewBox="0 0 40 52" preserveAspectRatio="none"><use href="#biny"/></svg>
<svg class="a" style="left:407.6px;top:818.2px" width="41.4" height="53.0" viewBox="0 0 40 52" preserveAspectRatio="none"><use href="#binb"/></svg>
<svg class="a" style="left:567.7px;top:820.3px" width="39.2" height="50.1" viewBox="0 0 40 52" preserveAspectRatio="none"><use href="#biny"/></svg>
<svg class="a" style="left:329.1px;top:903.7px" width="39.8" height="50.0" viewBox="0 0 40 52" preserveAspectRatio="none"><use href="#biny"/></svg>
<svg class="a" style="left:406.2px;top:902.8px" width="41.9" height="52.2" viewBox="0 0 40 52" preserveAspectRatio="none"><use href="#binb"/></svg>
<svg class="a" style="left:568.5px;top:901.5px" width="39.2" height="50.8" viewBox="0 0 40 52" preserveAspectRatio="none"><use href="#biny"/></svg>
<svg class="a" style="left:248.0px;top:984.3px" width="39.2" height="50.9" viewBox="0 0 40 52" preserveAspectRatio="none"><use href="#bing"/></svg>
<svg class="a" style="left:329.7px;top:984.9px" width="39.2" height="50.8" viewBox="0 0 40 52" preserveAspectRatio="none"><use href="#biny"/></svg>
<svg class="a" style="left:407.0px;top:984.9px" width="41.1" height="52.7" viewBox="0 0 40 52" preserveAspectRatio="none"><use href="#binb"/></svg>
<svg class="a" style="left:567.7px;top:983.0px" width="39.2" height="50.6" viewBox="0 0 40 52" preserveAspectRatio="none"><use href="#biny"/></svg>
<svg class="a" style="left:897.3px;top:656.0px" width="39.5" height="50.0" viewBox="0 0 40 52" preserveAspectRatio="none"><use href="#biny"/></svg>
<svg class="a" style="left:976.0px;top:656.0px" width="41.1" height="52.2" viewBox="0 0 40 52" preserveAspectRatio="none"><use href="#binb"/></svg>
<svg class="a" style="left:1138.9px;top:656.0px" width="40.0" height="50.0" viewBox="0 0 40 52" preserveAspectRatio="none"><use href="#biny"/></svg>
<svg class="a" style="left:817.0px;top:738.5px" width="40.0" height="50.0" viewBox="0 0 40 52" preserveAspectRatio="none"><use href="#bing"/></svg>
<svg class="a" style="left:898.1px;top:739.3px" width="39.2" height="50.0" viewBox="0 0 40 52" preserveAspectRatio="none"><use href="#biny"/></svg>
<svg class="a" style="left:976.0px;top:739.3px" width="41.1" height="51.9" viewBox="0 0 40 52" preserveAspectRatio="none"><use href="#binb"/></svg>
<svg class="a" style="left:1138.9px;top:740.7px" width="38.6" height="49.7" viewBox="0 0 40 52" preserveAspectRatio="none"><use href="#biny"/></svg>
<svg class="a" style="left:896.8px;top:819.0px" width="39.2" height="50.6" viewBox="0 0 40 52" preserveAspectRatio="none"><use href="#biny"/></svg>
<svg class="a" style="left:892px;top:798.5px" width="52" height="78" viewBox="0 0 52 78"><path d="M2.5 25 C12 31 24 42 37.5 69" stroke="#e5141c" stroke-width="4.6" fill="none" stroke-linecap="round"/><path d="M40.5 16.5 C33 30 23 46 14.5 73" stroke="#e5141c" stroke-width="4.8" fill="none" stroke-linecap="round"/><path d="M44 12 L49 8" stroke="#f4a0a0" stroke-width="0.8"/></svg>
<svg class="a" style="left:974.4px;top:822.2px" width="41.4" height="52.8" viewBox="0 0 40 52" preserveAspectRatio="none"><use href="#binb"/></svg>
<svg class="a" style="left:1138.0px;top:822.2px" width="39.3" height="50.9" viewBox="0 0 40 52" preserveAspectRatio="none"><use href="#biny"/></svg>
<svg class="a" style="left:815.6px;top:903.7px" width="40.0" height="50.0" viewBox="0 0 40 52" preserveAspectRatio="none"><use href="#bing"/></svg>
<svg class="a" style="left:896.8px;top:904.2px" width="39.2" height="50.0" viewBox="0 0 40 52" preserveAspectRatio="none"><use href="#biny"/></svg>
<svg class="a" style="left:976.0px;top:905.0px" width="40.6" height="52.5" viewBox="0 0 40 52" preserveAspectRatio="none"><use href="#binb"/></svg>
<svg class="a" style="left:1137.5px;top:903.7px" width="39.2" height="50.0" viewBox="0 0 40 52" preserveAspectRatio="none"><use href="#biny"/></svg>
<svg class="a" style="left:1475.3px;top:654.6px" width="39.5" height="50.1" viewBox="0 0 40 52" preserveAspectRatio="none"><use href="#biny"/></svg>
<svg class="a" style="left:1554.6px;top:651.9px" width="41.4" height="52.0" viewBox="0 0 40 52" preserveAspectRatio="none"><use href="#binb"/></svg>
<svg class="a" style="left:1716.9px;top:653.3px" width="38.6" height="50.0" viewBox="0 0 40 52" preserveAspectRatio="none"><use href="#biny"/></svg>
<svg class="a" style="left:1395.0px;top:736.6px" width="40.0" height="50.0" viewBox="0 0 40 52" preserveAspectRatio="none"><use href="#bing"/></svg>
<svg class="a" style="left:1476.1px;top:738.0px" width="39.2" height="50.0" viewBox="0 0 40 52" preserveAspectRatio="none"><use href="#biny"/></svg>
<svg class="a" style="left:1554.0px;top:738.0px" width="41.1" height="51.9" viewBox="0 0 40 52" preserveAspectRatio="none"><use href="#binb"/></svg>
<svg class="a" style="left:1716.3px;top:736.3px" width="39.2" height="49.5" viewBox="0 0 40 52" preserveAspectRatio="none"><use href="#biny"/></svg>
<svg class="a" style="left:1474.8px;top:818.2px" width="39.2" height="50.3" viewBox="0 0 40 52" preserveAspectRatio="none"><use href="#biny"/></svg>
<svg class="a" style="left:1552.4px;top:817.6px" width="41.4" height="52.0" viewBox="0 0 40 52" preserveAspectRatio="none"><use href="#binb"/></svg>
<svg class="a" style="left:1714.1px;top:821.7px" width="39.8" height="50.0" viewBox="0 0 40 52" preserveAspectRatio="none"><use href="#biny"/></svg>
<svg class="a" style="left:1394.4px;top:900.1px" width="39.8" height="50.6" viewBox="0 0 40 52" preserveAspectRatio="none"><use href="#bing"/></svg>
<svg class="a" style="left:1474.8px;top:901.0px" width="39.2" height="50.5" viewBox="0 0 40 52" preserveAspectRatio="none"><use href="#biny"/></svg>
<svg class="a" style="left:1554.0px;top:902.0px" width="40.6" height="52.2" viewBox="0 0 40 52" preserveAspectRatio="none"><use href="#binb"/></svg>
<svg class="a" style="left:1715.5px;top:902.3px" width="39.2" height="50.6" viewBox="0 0 40 52" preserveAspectRatio="none"><use href="#biny"/></svg>
<svg class="a" style="left:1474.8px;top:983.0px" width="39.2" height="50.0" viewBox="0 0 40 52" preserveAspectRatio="none"><use href="#biny"/></svg>

<svg class="a" style="left:195px;top:1275px" width="160" height="85" viewBox="0 0 160 85">
<path d="M21.6 8.8 C14 18 8 30 8.4 40 C8.8 52 16 61 26 61.8 C33 62 38 59 40 55.2 C38 49 33 43 29.6 37.6 C25 31 22 22 21.6 8.8 Z" fill="#b3262c"/>
<path d="M22.4 13 C30 18 44 27 52 37 C58 45 57.5 55 50.5 60 L46.5 62.5 L41.2 69.2 L42.6 69.6 L47.6 63.4 C45.6 57 45.6 50.5 41.4 45 C35 38 27.5 32 25 22 Z" fill="#888"/>
<path d="M32.6 30.5 C36 33 36.6 36.4 34.6 39 C33.4 36.6 33.6 33.6 32.6 30.5 Z" fill="#fff"/>
<g fill="#b0242a"><path d="M67.2 30.8 H79 V35 H71.5 V53.2 H67.2 Z"/>
<path d="M90 30.8 H111 V35 H94 V40 H107 Q111.2 40 111.2 44 V49 Q111.2 53.2 107 53.2 H90 V49 H107 V44.2 H94 Q90 44.2 90 40 Z"/></g>
<g fill="#898989"><path d="M121.2 21.2 H125.5 V30.8 H130 V35 H125.5 V53.2 H121.2 Z"/>
<path d="M139.4 30 H143.4 V60 Q143.4 63.8 139.6 63.8 H134.4 V60 H139.4 Z"/></g>
<text x="67.2" y="68.4" font-family="Liberation Sans" font-weight="bold" font-size="11.2" textLength="58.8" lengthAdjust="spacingAndGlyphs" fill="#111" stroke="#111" stroke-width="0.5">RESITEJO</text>
<text x="8.4" y="77.6" font-family="Liberation Sans" font-size="6.6" textLength="135" lengthAdjust="spacingAndGlyphs" fill="#6a6a6a">Gestão e Tratamento de Resíduos, E.I.M., S.A.</text>
</svg>
<div class="a" style="left:436.8px;top:1309.9px;width:148px;height:51.3px;background:#000;border-radius:2px"></div>
<svg class="a" style="left:436.8px;top:1309.9px" width="148" height="52" viewBox="0 0 148 52">
<path d="M19 17.6 C21 17.6 23 16.2 25.6 16.2 C28 16.2 30.4 17.6 31.6 19.8 C28.4 21.6 27.6 25 28 27.6 C28.4 30.6 30.4 32.6 32.8 33.4 C31.6 37.2 29 42.3 25.8 42.3 C23.8 42.3 23 41.2 20.4 41.2 C17.8 41.2 16.8 42.3 14.8 42.3 C10.8 42.3 5 35 5 27 C5 20.6 9 16.4 13.2 16.4 C15.6 16.4 17.2 17.6 19 17.6 Z M19.4 15.6 C19.2 12.4 21.6 9.4 25 9 C25.4 12.4 22.6 15.6 19.4 15.6 Z" fill="#fff"/>
<text x="39.6" y="18" font-family="Liberation Sans" font-size="14.6" textLength="91.3" lengthAdjust="spacingAndGlyphs" fill="#fff">Disponível na</text>
<text x="39.6" y="40.5" font-family="Liberation Sans" font-size="21.6" textLength="103" lengthAdjust="spacingAndGlyphs" fill="#fff">App Store</text>
</svg>
<div class="a" style="left:625.3px;top:1314px;width:152.4px;height:48.1px;background:#000;border-radius:5px;border:1px solid #8a8a8a"></div>
<svg class="a" style="left:625.3px;top:1314px" width="153" height="49" viewBox="0 0 153 49">
<path d="M5.4 19.3 L28.7 32 L5.4 45.4 Z" fill="#5ab9d6"/>
<path d="M5.4 19.3 L20.6 27.6 L17 32.3 Z" fill="#6fc07a"/>
<path d="M20.6 27.6 L28.7 32 L20.8 36.5 L17 32.3 Z" fill="#f6b34a"/>
<path d="M17 32.3 L20.8 36.5 L5.4 45.4 Z" fill="#d8464e"/>
<text x="34.7" y="14.4" font-family="Liberation Sans" font-weight="bold" font-size="9.9" textLength="87.7" lengthAdjust="spacingAndGlyphs" fill="#fff">DISPONÍVEL NO</text>
<text x="34.7" y="38.2" font-family="Liberation Serif" font-size="23.5" textLength="66" lengthAdjust="spacingAndGlyphs" fill="#fff">Google</text>
<text x="104" y="38.2" font-family="Liberation Sans" font-size="20.5" textLength="42.7" lengthAdjust="spacingAndGlyphs" fill="#fff">play</text>
</svg>
<svg class="a" style="left:870px;top:1310px" width="410" height="60" viewBox="0 0 410 60">
<g font-family="Liberation Sans" font-size="23" fill="#111" stroke="#111" stroke-width="0.4">
<text x="10" y="38" textLength="67" lengthAdjust="spacingAndGlyphs">+Info</text>
<text x="118" y="38" textLength="88" lengthAdjust="spacingAndGlyphs">Adesões</text>
<text x="244" y="38" textLength="152.7" lengthAdjust="spacingAndGlyphs">249.749.010</text>
</g>
<path d="M97.4 15 L97.4 44" stroke="#111" stroke-width="2"/>
<path d="M222.4 32 L229.6 32" stroke="#111" stroke-width="2"/>
</svg>
<div class="t" style="left:1365px;top:1280px;font-size:11.5px;line-height:14px;color:#444">Cofinanciado por:</div>
<svg class="a" style="left:1355px;top:1310px" width="170" height="60" viewBox="0 0 170 60">
<g fill="#263238">
<path d="M10.2 11.5 H22 Q30.6 11.5 30.6 20 Q30.6 28.5 22 28.5 H14.6 V37 H10.2 Z M14.6 15.6 V24.4 H21.6 Q26.2 24.4 26.2 20 Q26.2 15.6 21.6 15.6 Z"/>
</g>
<ellipse cx="46.2" cy="24.2" rx="11.2" ry="10.8" fill="none" stroke="#263238" stroke-width="4.3"/>
<path d="M78 15.5 C76 12.8 73 11.5 69.5 11.5 C64.6 11.5 61.5 14 61.5 17.8 C61.5 26 77.8 22 77.8 30 C77.8 34.4 74 37 69.5 37 C65.5 37 62.4 35.2 60.6 32.4" fill="none" stroke="#263238" stroke-width="4.2"/>
<rect x="82.9" y="11.5" width="22.1" height="4.2" fill="#3cb3d6"/>
<rect x="82.9" y="21.7" width="22.1" height="4.3" fill="#d8cb1e"/>
<rect x="82.9" y="32.3" width="22.1" height="4.7" fill="#4aa64a"/>
<path d="M111.8 11.5 V27 Q111.8 35 120 35 Q128.4 35 128.4 27 V11.5" fill="none" stroke="#263238" stroke-width="4.3"/>
<g fill="#263238">
<path d="M135.6 11.5 H146 Q154.6 11.5 154.6 19.6 Q154.6 25.6 149.4 27.2 L156.4 37 H151 L144.8 27.8 H140 V37 H135.6 Z M140 15.6 V23.8 H145.6 Q150.2 23.8 150.2 19.7 Q150.2 15.6 145.6 15.6 Z"/>
</g>
<g font-family="Liberation Sans" fill="#444">
<text x="10" y="46.6" font-size="4" textLength="58" lengthAdjust="spacingAndGlyphs">PROGRAMA OPERACIONAL</text>
<text x="10" y="52.6" font-size="4.4" textLength="127" lengthAdjust="spacingAndGlyphs">SUSTENTABILIDADE E EFICIÊNCIA NO USO DE RECURSOS</text>
<text x="142.8" y="46.8" font-size="5" font-weight="bold" textLength="13.6" lengthAdjust="spacingAndGlyphs">2014</text>
<text x="149.4" y="52.8" font-size="5" font-weight="bold" textLength="6.6" lengthAdjust="spacingAndGlyphs">20</text>
</g>
</svg>
<svg class="a" style="left:1530px;top:1310px" width="170" height="60" viewBox="0 0 170 60">
<path d="M18.6 11.5 C12 14 9 22 8.6 33 C8.4 38 8.6 42 8.8 46.6 C11 42 15 40 22.5 38.8 V11.5 Z" fill="#1b7a3e"/>
<path d="M12 51.8 C12 46 17 42.8 22.5 42 V51.8 Z" fill="#1b7a3e"/>
<path d="M22.5 11.5 L37.8 11 C37.8 22 37 30 33.4 33 C30 35.8 24 35.4 17.8 39 C14 41 11.2 43.8 9.4 47 C11 41.4 16 36.8 22.5 35.4 Z" fill="#e0232b"/>
<text x="42.5" y="18.3" font-family="Liberation Serif" font-weight="bold" font-size="10.6" textLength="56.5" lengthAdjust="spacingAndGlyphs" fill="#1d6b45">PORTUGAL</text>
<g fill="none" stroke="#e0232b" stroke-width="5.2">
<path d="M45.2 30.6 C45.6 26.6 48.6 26.2 52.4 26.2 C56.6 26.2 59.4 28.4 59.4 32 C59.4 35 58 36.6 55.6 39 L46 49.6 H62"/>
<ellipse cx="79" cy="38.2" rx="10.1" ry="11.3"/>
<path d="M97.9 30.6 C98.3 26.6 101.3 26.2 105.1 26.2 C109.3 26.2 112.1 28.4 112.1 32 C112.1 35 110.7 36.6 108.3 39 L98.7 49.6 H115.6"/>
<ellipse cx="132.4" cy="38.2" rx="11" ry="11.3"/>
</g>
</svg>
<svg class="a" style="left:1704.5px;top:1320.5px" width="64" height="43" viewBox="0 0 64 43">
<rect width="63" height="42" fill="#1f47a6"/>
<circle cx="44.85" cy="21.25" r="1.3" fill="#f4d31a"/><circle cx="43.03" cy="28.05" r="1.3" fill="#f4d31a"/><circle cx="38.05" cy="33.03" r="1.3" fill="#f4d31a"/><circle cx="31.25" cy="34.85" r="1.3" fill="#f4d31a"/><circle cx="24.45" cy="33.03" r="1.3" fill="#f4d31a"/><circle cx="19.47" cy="28.05" r="1.3" fill="#f4d31a"/><circle cx="17.65" cy="21.25" r="1.3" fill="#f4d31a"/><circle cx="19.47" cy="14.45" r="1.3" fill="#f4d31a"/><circle cx="24.45" cy="9.47" r="1.3" fill="#f4d31a"/><circle cx="31.25" cy="7.65" r="1.3" fill="#f4d31a"/><circle cx="38.05" cy="9.47" r="1.3" fill="#f4d31a"/><circle cx="43.03" cy="14.45" r="1.3" fill="#f4d31a"/>
</svg>
<div class="t" style="left:1772.5px;top:1328px;font-size:7.6px;line-height:9px;font-weight:bold;color:#222">UNIÃO EUROPEIA</div>
<div class="t" style="left:1772.5px;top:1344.5px;font-size:7.6px;line-height:9px;color:#333">Fundo de Coesão</div>

</body></html>
